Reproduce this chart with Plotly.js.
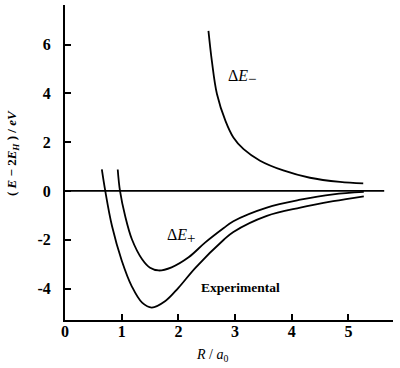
<!DOCTYPE html>
<html>
<head>
<meta charset="utf-8">
<script src="https://cdn.plot.ly/plotly-3.0.1.min.js"></script>
<style>html,body{margin:0;padding:0;background:#fff;}#chart{width:400px;height:368px;}</style>
</head>
<body>
<div id="chart"></div>
<script>
// Experimental curve
const expR = [0.65, 0.71, 0.83, 1.00, 1.18, 1.36, 1.53, 1.77, 2.00, 2.30, 2.80, 2.97, 3.56, 4.15, 4.73, 5.27];
const expE = [0.88, 0.00, -1.45, -2.85, -3.92, -4.58, -4.78, -4.51, -3.97, -3.15, -2.00, -1.68, -1.02, -0.68, -0.42, -0.22];
// ΔE+ curve
const plusR = [0.93, 0.97, 1.06, 1.18, 1.36, 1.50, 1.65, 1.88, 2.18, 2.47, 2.80, 2.97, 3.56, 4.15, 4.73, 5.27];
const plusE = [0.88, 0.00, -1.02, -1.98, -2.80, -3.15, -3.26, -3.13, -2.72, -2.12, -1.52, -1.24, -0.68, -0.36, -0.14, -0.04];
// ΔE− curve
const minusR = [2.53, 2.59, 2.68, 2.83, 2.97, 3.15, 3.44, 3.85, 4.32, 4.85, 5.26];
const minusE = [6.56, 5.33, 3.97, 2.87, 2.19, 1.71, 1.24, 0.84, 0.54, 0.37, 0.31];
// zero reference line
const zeroR = [0, 5.63];
const zeroE = [0, 0];
// ticks
const xTickVals = [0, 1, 2, 3, 4, 5];
const xTickText = ['0', '1', '2', '3', '4', '5'];
const yTickVals = [-4, -2, 0, 2, 4, 6];
const yTickText = ['-4', '-2', '0', '2', '4', '6'];

const serif = 'Liberation Serif';
const lineStyle = {color: '#000', width: 1.8, shape: 'spline', smoothing: 1};

const traces = [
  {x: zeroR, y: zeroE, mode: 'lines', line: {color: '#000', width: 1.8}, hoverinfo: 'skip'},
  {x: expR, y: expE, mode: 'lines', line: lineStyle},
  {x: plusR, y: plusE, mode: 'lines', line: lineStyle},
  {x: minusR, y: minusE, mode: 'lines', line: lineStyle}
];

const tickFont = {family: serif, size: 16, weight: 700, color: '#000'};

const layout = {
  width: 400, height: 368,
  margin: {l: 65, r: 7, t: 5, b: 48},
  showlegend: false,
  paper_bgcolor: '#fff', plot_bgcolor: '#fff',
  font: {family: serif, color: '#000'},
  xaxis: {
    range: [0, 5.785], showgrid: false, zeroline: false,
    showline: true, linecolor: '#000', linewidth: 2,
    ticks: 'inside', ticklen: 6, tickwidth: 2, tickcolor: '#000',
    tickmode: 'array', tickvals: xTickVals, ticktext: xTickText,
    tickfont: tickFont, ticklabelstandoff: -4
  },
  yaxis: {
    range: [-5.29, 7.62], showgrid: false, zeroline: false,
    showline: true, linecolor: '#000', linewidth: 2,
    ticks: 'inside', ticklen: 6, tickwidth: 2, tickcolor: '#000',
    tickmode: 'array', tickvals: yTickVals, ticktext: yTickText,
    tickfont: tickFont,
    ticklabelstandoff: 9
  },
  annotations: [
    {xref: 'paper', yref: 'paper', x: (212 - 65) / 328, y: (368 - 48 - 355) / 315, xanchor: 'center', yanchor: 'middle',
     text: '<i>R</i> / <i>a</i><sub>0</sub>', showarrow: false, font: {family: serif, size: 14}},
    {xref: 'paper', yref: 'paper', x: (12 - 65) / 328, y: (320 - 153) / 315, xanchor: 'center', yanchor: 'middle',
     textangle: -90, text: '<b>( <i>E</i> − 2<i>E</i><sub><i>H</i></sub> ) / <i>eV</i></b>', showarrow: false, font: {family: serif, size: 13}},
    {xref: 'paper', yref: 'paper', x: (226 - 65) / 328, y: (320 - 77) / 315, xanchor: 'left', yanchor: 'middle',
     text: 'Δ<i>E</i><sub><span style="font-size:15px">−</span></sub>', showarrow: false, font: {family: serif, size: 16}},
    {xref: 'paper', yref: 'paper', x: (165 - 65) / 328, y: (320 - 236) / 315, xanchor: 'left', yanchor: 'middle',
     text: 'Δ<i>E</i><sub><span style="font-size:15px">+</span></sub>', showarrow: false, font: {family: serif, size: 16}},
    {xref: 'paper', yref: 'paper', x: (199 - 65) / 328, y: (320 - 287) / 315, xanchor: 'left', yanchor: 'middle',
     text: '<b>Experimental</b>', showarrow: false, font: {family: serif, size: 13.5}}
  ]
};

Plotly.newPlot('chart', traces, layout, {displayModeBar: false, staticPlot: true});
</script>
</body>
</html>
